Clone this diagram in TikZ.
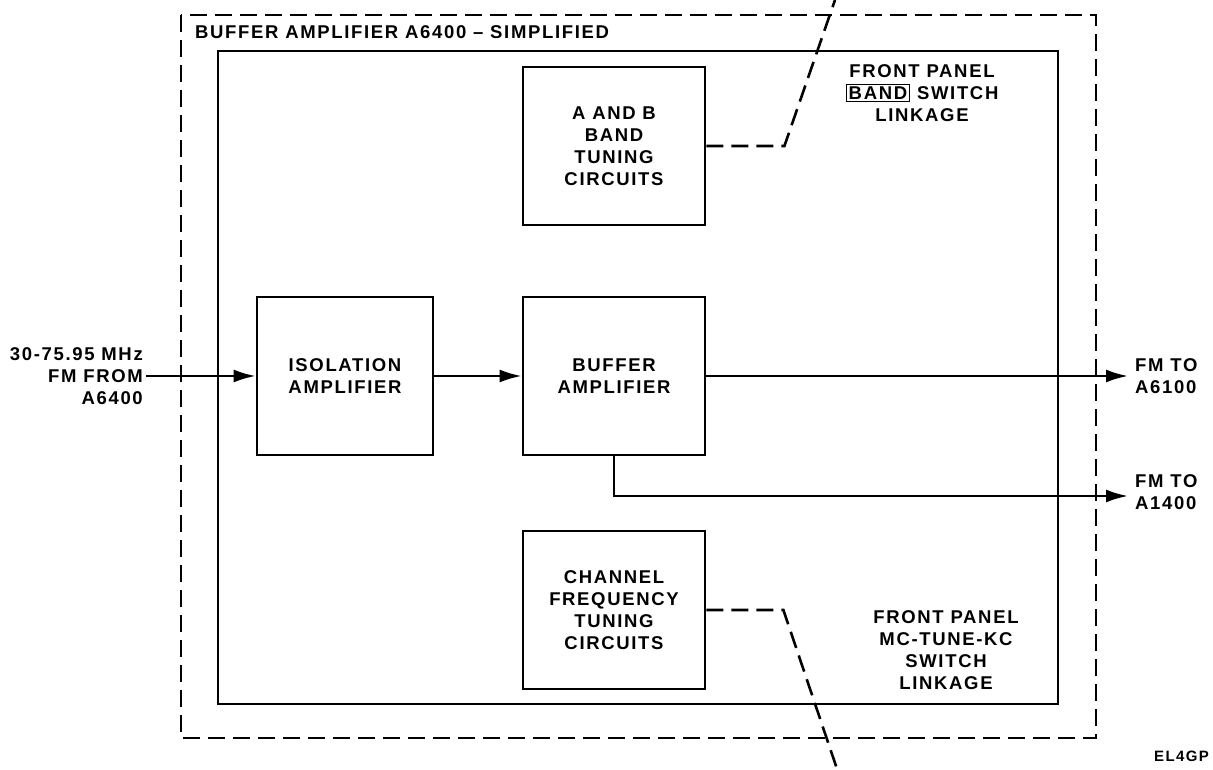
\documentclass[tikz,border=0pt]{standalone}
\usepackage{fontspec}
\newfontfamily\diagfont{Liberation Sans}[LetterSpace=9]
\usetikzlibrary{arrows.meta,positioning}
\setlength{\fboxsep}{1.5pt}
\setlength{\fboxrule}{1.6pt}
\tikzset{
  blk/.style={draw,line width=2.8pt,minimum width=182pt,minimum height=158pt,align=center,inner sep=0pt},
  sig/.style={line width=2.4pt,-{Latex[length=22pt,width=13pt]}},
  linkage/.style={line width=2.6pt,dash pattern=on 17pt off 8pt},
}
\begin{document}
\begin{tikzpicture}[x=1pt,y=1pt,font=\diagfont\bfseries\fontsize{18.5}{22}\selectfont]
  \useasboundingbox (0,0) rectangle (1213,769);
  \draw[linkage] (181,754) rectangle (1096,31);
  \draw[line width=2.8pt] (218,718) rectangle (1058,65);
  \node[anchor=base west,inner sep=0pt] (title) at (195,730) {BUFFER AMPLIFIER A6400 – SIMPLIFIED};
  \node[blk] (ab) at (614,623) {A AND B\\BAND\\TUNING\\CIRCUITS};
  \node[blk,minimum width=176pt] (iso) at (345,393) {ISOLATION\\AMPLIFIER};
  \node[blk] (buf) at (614,393) {BUFFER\\AMPLIFIER};
  \node[blk] (chan) at (614,159) {CHANNEL\\FREQUENCY\\TUNING\\CIRCUITS};
  \node[anchor=east,align=right,inner sep=3pt] (src) at (146,393) {30-75.95 MHz\\FM FROM\\A6400};
  \coordinate (out1) at (1128,393);
  \coordinate (out2) at (1128,273);
  \node[right=7pt of out1,align=left,inner sep=0pt] (out1lbl) {FM TO\\A6100};
  \node[right=7pt of out2,align=left,inner sep=0pt,yshift=4pt] (out2lbl) {FM TO\\A1400};
  \draw[sig] (src.east) -- (iso.west);
  \draw[sig] (iso.east) -- (buf.west);
  \draw[sig] (buf.east) -- (out1);
  \draw[sig] (buf.south) |- (out2);
  % switch linkages
  \coordinate (bandsw) at (835,769);
  \coordinate (tunesw) at (837,0);
  \draw[linkage] (ab.east) -- ++(78,0) -- (bandsw);
  \draw[linkage] (chan.east) -- ++(77,0) -- (tunesw);
  \node[align=center,inner sep=0pt] (bandlbl) at (922,676) {FRONT PANEL\\\fbox{BAND} SWITCH\\LINKAGE};
  \node[align=center,inner sep=0pt] (tunelbl) at (946,119) {FRONT PANEL\\MC-TUNE-KC\\SWITCH\\LINKAGE};
  \node[anchor=base west,inner sep=0pt,font=\diagfont\bfseries\fontsize{15}{17}\selectfont] (figid) at (1154,8) {EL4GP};
\end{tikzpicture}
\end{document}
